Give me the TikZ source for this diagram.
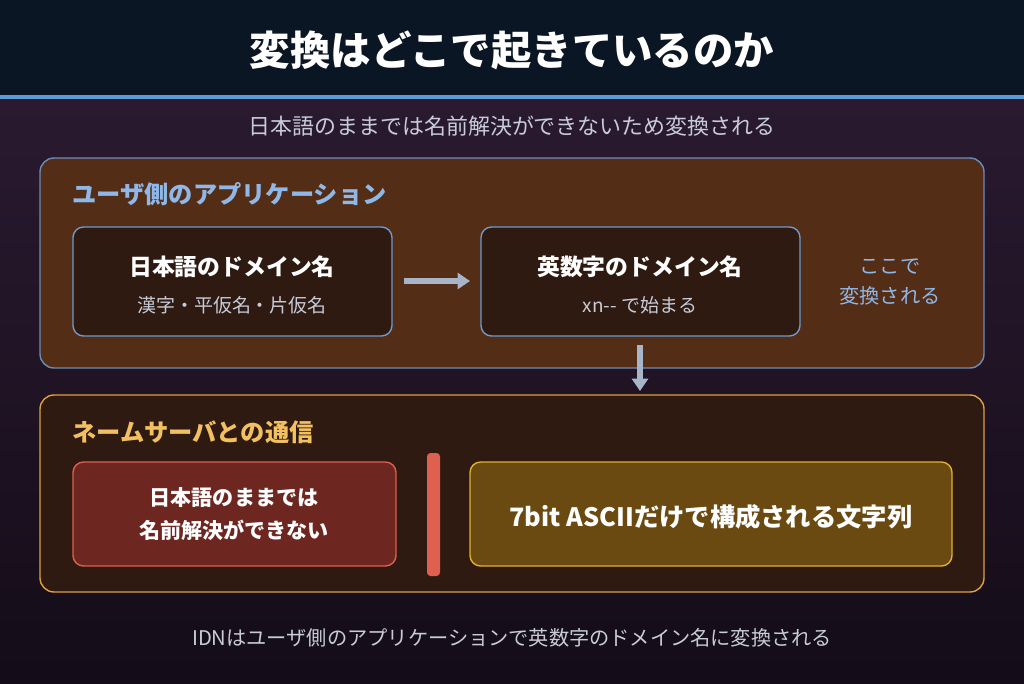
\documentclass[tikz,border=0pt]{standalone}
\usepackage{fontspec}
\setmainfont{Noto Sans CJK JP}
\usetikzlibrary{positioning,arrows.meta}
\definecolor{headColor}{HTML}{0B1624}
\definecolor{lineColor}{HTML}{5B9BD5}
\definecolor{bgTop}{HTML}{2A1A30}
\definecolor{bgBot}{HTML}{140C18}
\definecolor{appFill}{HTML}{532D16}
\definecolor{appDraw}{HTML}{6B8CB8}
\definecolor{innerFill}{HTML}{2E1A10}
\definecolor{innerDraw}{HTML}{6B9BD0}
\definecolor{appText}{HTML}{8FB8E8}
\definecolor{nsDraw}{HTML}{E0A040}
\definecolor{nsText}{HTML}{F2C060}
\definecolor{redFill}{HTML}{6E2620}
\definecolor{redDraw}{HTML}{E06050}
\definecolor{yelFill}{HTML}{6A4A10}
\definecolor{yelDraw}{HTML}{E0B030}
\definecolor{greyText}{HTML}{C8CCD8}
\definecolor{arrowColor}{HTML}{A8B4C8}
\begin{document}
\begin{tikzpicture}[x=0.02cm,y=-0.02cm]
  \tikzset{
    panel/.style={draw=#1,rounded corners=8pt,line width=0.8pt},
    inner/.style={draw=innerDraw,fill=innerFill,rounded corners=6pt,line width=0.8pt},
    main/.style={text=white,font=\bfseries\fontsize{13}{15}\selectfont},
    sub/.style={text=greyText,font=\fontsize{10.8}{13}\selectfont},
    flow/.style={-{Triangle[length=7pt,width=9pt]},arrowColor,line width=3pt}
  }
  % background
  \shade[top color=bgTop,bottom color=bgBot] (0,95) rectangle (1024,683);
  \fill[headColor] (0,0) rectangle (1024,95);
  \fill[lineColor] (0,95) rectangle (1024,99);
  \useasboundingbox (0,0) rectangle (1024,683);

  \node[text=white,font=\bfseries\fontsize{23}{27}\selectfont] (title) at (512,50) {変換はどこで起きているのか};
  \node[sub,font=\fontsize{12.5}{14}\selectfont] (subtitle) at (512,126) {日本語のままでは名前解決ができないため変換される};

  % application side
  \draw[panel=appDraw,fill=appFill] (40,158) rectangle (984,368);
  \node[anchor=west,inner sep=0pt,text=appText,font=\bfseries\fontsize{13.8}{16}\selectfont] (apptitle) at (72,194) {ユーザ側のアプリケーション};
  \draw[inner] (73,227) rectangle (392,336);
  \node[main] (jpname) at (232,267) {日本語のドメイン名};
  \node[sub] (jpsub) at (232,305) {漢字・平仮名・片仮名};
  \draw[inner] (481,227) rectangle (800,336);
  \node[main] (asname) at (640,267) {英数字のドメイン名};
  \node[sub] (assub) at (640,305) {xn{-}{-} で始まる};
  \node[text=appText,font=\fontsize{11.5}{17}\selectfont,align=center] (here) at (890,282) {ここで\\変換される};
  \coordinate (a1) at (404,281);
  \coordinate (a2) at (470,281);
  \draw[flow] (a1) -- (a2);
  \coordinate (d1) at (640,345);
  \coordinate (d2) at (640,391);
  \draw[flow] (d1) -- (d2);

  % name server side
  \draw[panel=nsDraw,fill=innerFill] (40,395) rectangle (984,592);
  \node[anchor=west,inner sep=0pt,text=nsText,font=\bfseries\fontsize{13.8}{16}\selectfont] (nstitle) at (72,432) {ネームサーバとの通信};
  \draw[draw=redDraw,fill=redFill,rounded corners=6pt,line width=0.8pt] (73,462) rectangle (396,566);
  \node[main,font=\bfseries\fontsize{12}{19}\selectfont,align=center] (cannot) at (234,514) {日本語のままでは\\名前解決ができない};
  \fill[redDraw,rounded corners=2pt] (427,453) rectangle (440,576);
  \draw[draw=yelDraw,fill=yelFill,rounded corners=6pt,line width=0.8pt] (470,462) rectangle (952,566);
  \node[main,font=\bfseries\fontsize{14.4}{17}\selectfont] (ascii) at (711,517) {7bit ASCIIだけで構成される文字列};

  \node[sub,font=\fontsize{11.5}{13}\selectfont] (footer) at (512,638) {IDNはユーザ側のアプリケーションで英数字のドメイン名に変換される};
\end{tikzpicture}
\end{document}
